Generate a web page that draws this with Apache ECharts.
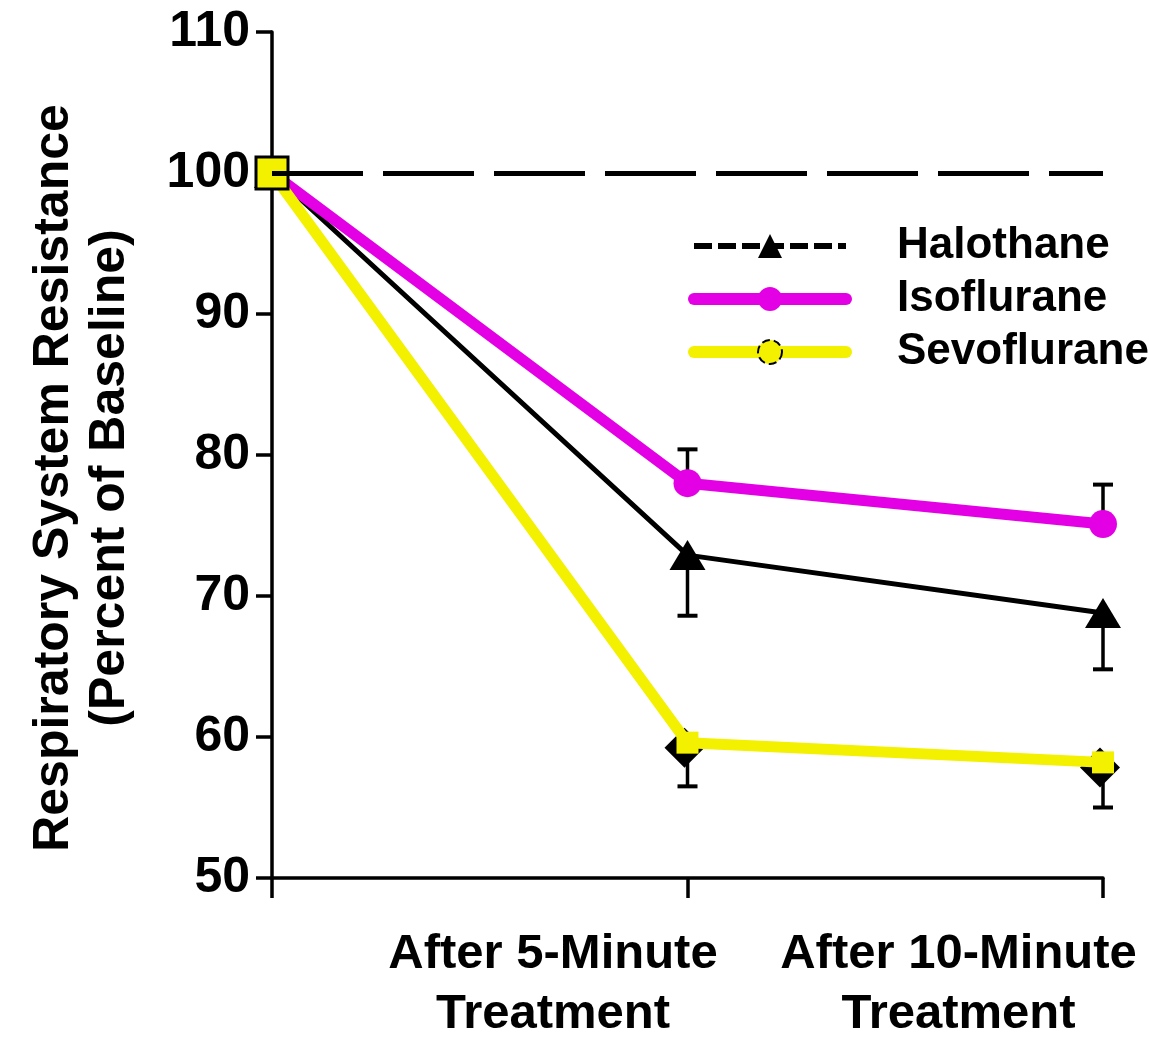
<!DOCTYPE html>
<html>
<head>
<meta charset="utf-8">
<script src="https://cdn.jsdelivr.net/npm/echarts@6/dist/echarts.min.js"></script>
<style>
  html, body { margin: 0; padding: 0; background: #fff; }
  #chart { width: 1149px; height: 1038px; }
</style>
</head>
<body>
<div id="chart"></div>
<script>
const categories = ['', 'After 5-Minute\nTreatment', 'After 10-Minute\nTreatment']
const yTicks = [50, 60, 70, 80, 90, 100, 110]
const halothane = [100, 72.9, 68.8]
const isoflurane = [100, 78.0, 75.1]
const sevoflurane = [100, 59.6, 58.2]
// error bar end points (one-sided)
const haloErr = [null, 68.6, 64.8]
const isoErr = [null, 80.4, 77.9]
const sevoErr = [null, 56.5, 55.0]
const baseline = 100

const FONT = '"Liberation Sans", Arial, Helvetica, sans-serif'
const MAGENTA = '#e400e4'
const YELLOW = '#f3f000'

function errData(vals, ends) {
  return ends.map((e, i) => (e == null ? null : [i, vals[i], e])).filter(Boolean)
}

function errSeries(vals, ends) {
  return {
    type: 'custom',
    z: 1,
    silent: true,
    data: errData(vals, ends),
    renderItem: (params, api) => {
      const p0 = api.coord([api.value(0), api.value(1)])
      const p1 = api.coord([api.value(0), api.value(2)])
      return {
        type: 'group',
        children: [
          { type: 'line', shape: { x1: p0[0], y1: p0[1], x2: p1[0], y2: p1[1] }, style: { stroke: '#000', lineWidth: 3.5 } },
          { type: 'line', shape: { x1: p1[0] - 10, y1: p1[1], x2: p1[0] + 10, y2: p1[1] }, style: { stroke: '#000', lineWidth: 4 } },
        ],
      }
    },
  }
}

const labelPad = [269, 289]

const chart = echarts.init(document.getElementById('chart'))
chart.setOption({
  animation: false,
  textStyle: { fontFamily: FONT, color: '#000', fontWeight: 'bold' },
  grid: { left: 272, right: 46, top: 32, bottom: 160, outerBoundsMode: 'none' },
  xAxis: {
    type: 'category',
    boundaryGap: false,
    data: categories.map((c, i) => ({
      value: c,
      textStyle: { padding: [0, i > 0 ? labelPad[i - 1] : 0, 0, 0] },
    })),
    axisLine: { lineStyle: { color: '#000', width: 3.5 } },
    axisTick: { length: 20, lineStyle: { color: '#000', width: 3.5 } },
    axisLabel: { fontSize: 49, fontWeight: 'bold', lineHeight: 60, margin: 46, color: '#000', align: 'center', interval: 0 },
    splitLine: { show: false },
  },
  yAxis: {
    type: 'value',
    min: yTicks[0],
    max: yTicks[yTicks.length - 1],
    interval: 10,
    axisLine: { show: true, lineStyle: { color: '#000', width: 3.5 } },
    axisTick: { show: true, length: 16, lineStyle: { color: '#000', width: 3.5 } },
    axisLabel: { fontSize: 50, fontWeight: 'bold', margin: 22, color: '#000' },
    splitLine: { show: false },
  },
  legend: {
    orient: 'vertical',
    left: 683,
    top: 219,
    itemWidth: 152,
    itemHeight: 30,
    itemGap: 9,
    selectedMode: false,
    textStyle: { fontSize: 44, fontWeight: 'bold', color: '#000', lineHeight: 30, padding: [0, 0, 0, 46] },
    data: [
      { name: 'Halothane', lineStyle: { type: [18, 6], width: 6 } },
      { name: 'Isoflurane', lineStyle: { width: 12, cap: 'round' } },
      { name: 'Sevoflurane', lineStyle: { width: 12, cap: 'round' }, itemStyle: { borderColor: '#000', borderWidth: 2, borderType: 'dashed' } },
    ],
  },
  graphic: [
    {
      type: 'text',
      x: 82,
      y: 478,
      rotation: Math.PI / 2,
      style: {
        text: 'Respiratory System Resistance\n(Percent of Baseline)',
        font: 'bold 50px ' + FONT,
        lineHeight: 56,
        fill: '#000',
        align: 'center',
        verticalAlign: 'middle',
      },
    },
  ],
  series: [
    errSeries(halothane, haloErr),
    errSeries(isoflurane, isoErr),
    errSeries(sevoflurane, sevoErr),
    {
      name: 'Halothane',
      type: 'line',
      z: 2,
      data: halothane,
      symbol: 'triangle',
      symbolSize: [36, 30],
      lineStyle: { color: '#000', width: 5 },
      itemStyle: { color: '#000' },
      markLine: {
        silent: true,
        symbol: 'none',
        label: { show: false },
        lineStyle: { color: '#000', width: 5, type: [91, 20] },
        data: [{ yAxis: baseline }],
      },
    },
    {
      name: 'Isoflurane',
      type: 'line',
      z: 3,
      data: isoflurane,
      symbol: 'circle',
      symbolSize: 28,
      lineStyle: { color: MAGENTA, width: 11 },
      itemStyle: { color: MAGENTA },
    },
    {
      name: 'Sevoflurane diamonds',
      type: 'scatter',
      z: 3,
      silent: true,
      data: sevoflurane.map((v, i) => (i === 0 ? null : [i, v])).filter(Boolean),
      symbol: 'diamond',
      symbolSize: 40,
      symbolOffset: [-3, 5],
      itemStyle: { color: '#000', opacity: 1 },
    },
    {
      name: 'Sevoflurane',
      type: 'line',
      z: 4,
      symbol: 'circle',
      lineStyle: { color: YELLOW, width: 11 },
      itemStyle: { color: YELLOW },
      data: sevoflurane.map((v, i) =>
        i === 0
          ? { value: v, symbol: 'rect', symbolSize: 32, itemStyle: { color: YELLOW, borderColor: '#000', borderWidth: 3 } }
          : { value: v, symbol: 'rect', symbolSize: 22 }
      ),
    },
  ],
})
</script>
</body>
</html>
